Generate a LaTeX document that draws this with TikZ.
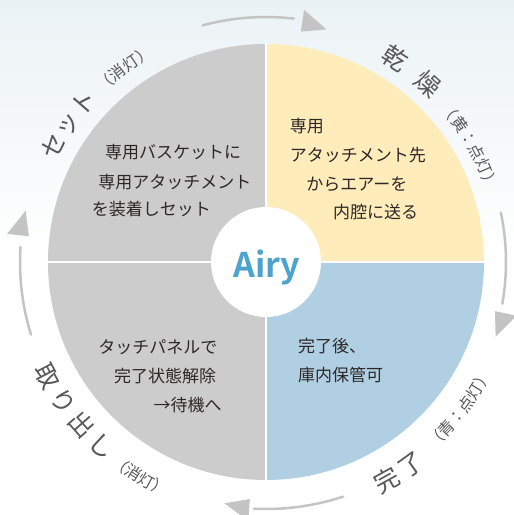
\documentclass[tikz,border=0pt]{standalone}
\usepackage{fontspec}
\setmainfont{Noto Sans CJK JP}
\newfontfamily\airyfont{Noto Sans CJK JP Bold}
\usetikzlibrary{decorations.text}

\definecolor{bgtop}{RGB}{235,242,245}
\definecolor{setgray}{RGB}{204,204,204}
\definecolor{dryyellow}{RGB}{254,237,186}
\definecolor{doneblue}{RGB}{176,207,227}
\definecolor{airyblue}{RGB}{78,163,206}
\definecolor{arcgray}{RGB}{196,196,196}
\definecolor{labelgray}{RGB}{88,88,88}
\definecolor{textdark}{RGB}{45,40,40}

\newcommand\biglbl{\color{labelgray}\fontsize{25}{25}\selectfont}
\newcommand\smalllbl{\color{labelgray}\fontsize{16}{16}\selectfont}

\tikzset{
  quadtext/.style={anchor=west, inner sep=0pt, text=textdark, font=\fontsize{17}{17}\selectfont},
  ringarc/.style={draw=arcgray, line width=2.5pt, line cap=round},
  ringlabel/.style={decorate, decoration={text along path, text align=#1}},
}

\begin{document}
\begin{tikzpicture}[x=1pt, y=1pt]
  \useasboundingbox (-266,-253) rectangle (248,262);
  \shade[top color=bgtop, bottom color=white, middle color=white] (-266,-253) rectangle (248,262);

  \fill[setgray] (0,0) -- (90:218) arc[start angle=90, end angle=270, radius=218] -- cycle;
  \fill[dryyellow] (0,0) -- (0:218) arc[start angle=0, end angle=90, radius=218] -- cycle;
  \fill[doneblue] (0,0) -- (-90:218) arc[start angle=-90, end angle=0, radius=218] -- cycle;
  \draw[white, line width=1.5pt] (-219,0) -- (219,0) (0,-219) -- (0,219);
  \fill[white] (0,0) circle[radius=55];
  \node[anchor=base, text=airyblue, font=\airyfont\fontsize{34}{34}\selectfont] (airy) at (1,-15) {Airy};

  \foreach \a/\b/\r/\t/\s in {105/83.5/245/81.4/244, 11.9/-10/240/-12.1/245.2, -71.8/-92.8/247/-93.9/248.6, 197.2/176.5/246/173.8/249.5}
  {
    \draw[ringarc] (\a:\r) arc[start angle=\a, end angle=\b, radius=\r];
    \fill[arcgray, rotate=\t] (\s-11,0) -- (\s+11,0) -- (\s-5,-25) -- cycle;
  }

  \path[ringlabel=fit to path, decoration={text={|\biglbl|セット}}] (154.4:232.8) arc[start angle=154.4, end angle=136.6, radius=232.8];
  \path[ringlabel=left, decoration={text={|\smalllbl|（消灯）}}] (134:234.4) arc[start angle=134, end angle=100, radius=234.4];
  \path[ringlabel=fit to path, decoration={text={|\biglbl|乾燥}}] (60.8:232) arc[start angle=60.8, end angle=44.6, radius=232];
  \path[ringlabel=left, decoration={text={|\smalllbl|（黄：点灯）}}] (41.4:231.7) arc[start angle=41.4, end angle=0, radius=231.7];
  \path[ringlabel=fit to path, decoration={text={|\biglbl|完了}}] (-63.8:258.5) arc[start angle=-63.8, end angle=-51.5, radius=258.5];
  \path[ringlabel=left, decoration={text={|\smalllbl|（青：点灯）}}] (-48.1:251.7) arc[start angle=-48.1, end angle=-5, radius=251.7];
  \path[ringlabel=fit to path, decoration={text={|\biglbl|取り出し}}] (204.9:255.5) arc[start angle=204.9, end angle=231.15, radius=255.5];
  \path[ringlabel=left, decoration={text={|\smalllbl|（消灯）}}] (232.4:255) arc[start angle=232.4, end angle=270, radius=255];

  \foreach \x/\y/\t [count=\i] in {-161/109.5/専用バスケットに, -167.7/80.3/専用アタッチメント, -174.3/52.8/を装着しセット,
    23.7/136.2/専用, 23.7/107/アタッチメント先, 40.3/77.8/からエアーを, 67/49.5/内腔に送る,
    -167.7/-85.3/タッチパネルで, -152/-113.7/完了状態解除, -112.5/-142.8/→待機へ,
    32/-84.5/完了後、, 32/-112.8/庫内保管可}
    \node[quadtext] (line\i) at (\x,\y) {\t};
\end{tikzpicture}
\end{document}
